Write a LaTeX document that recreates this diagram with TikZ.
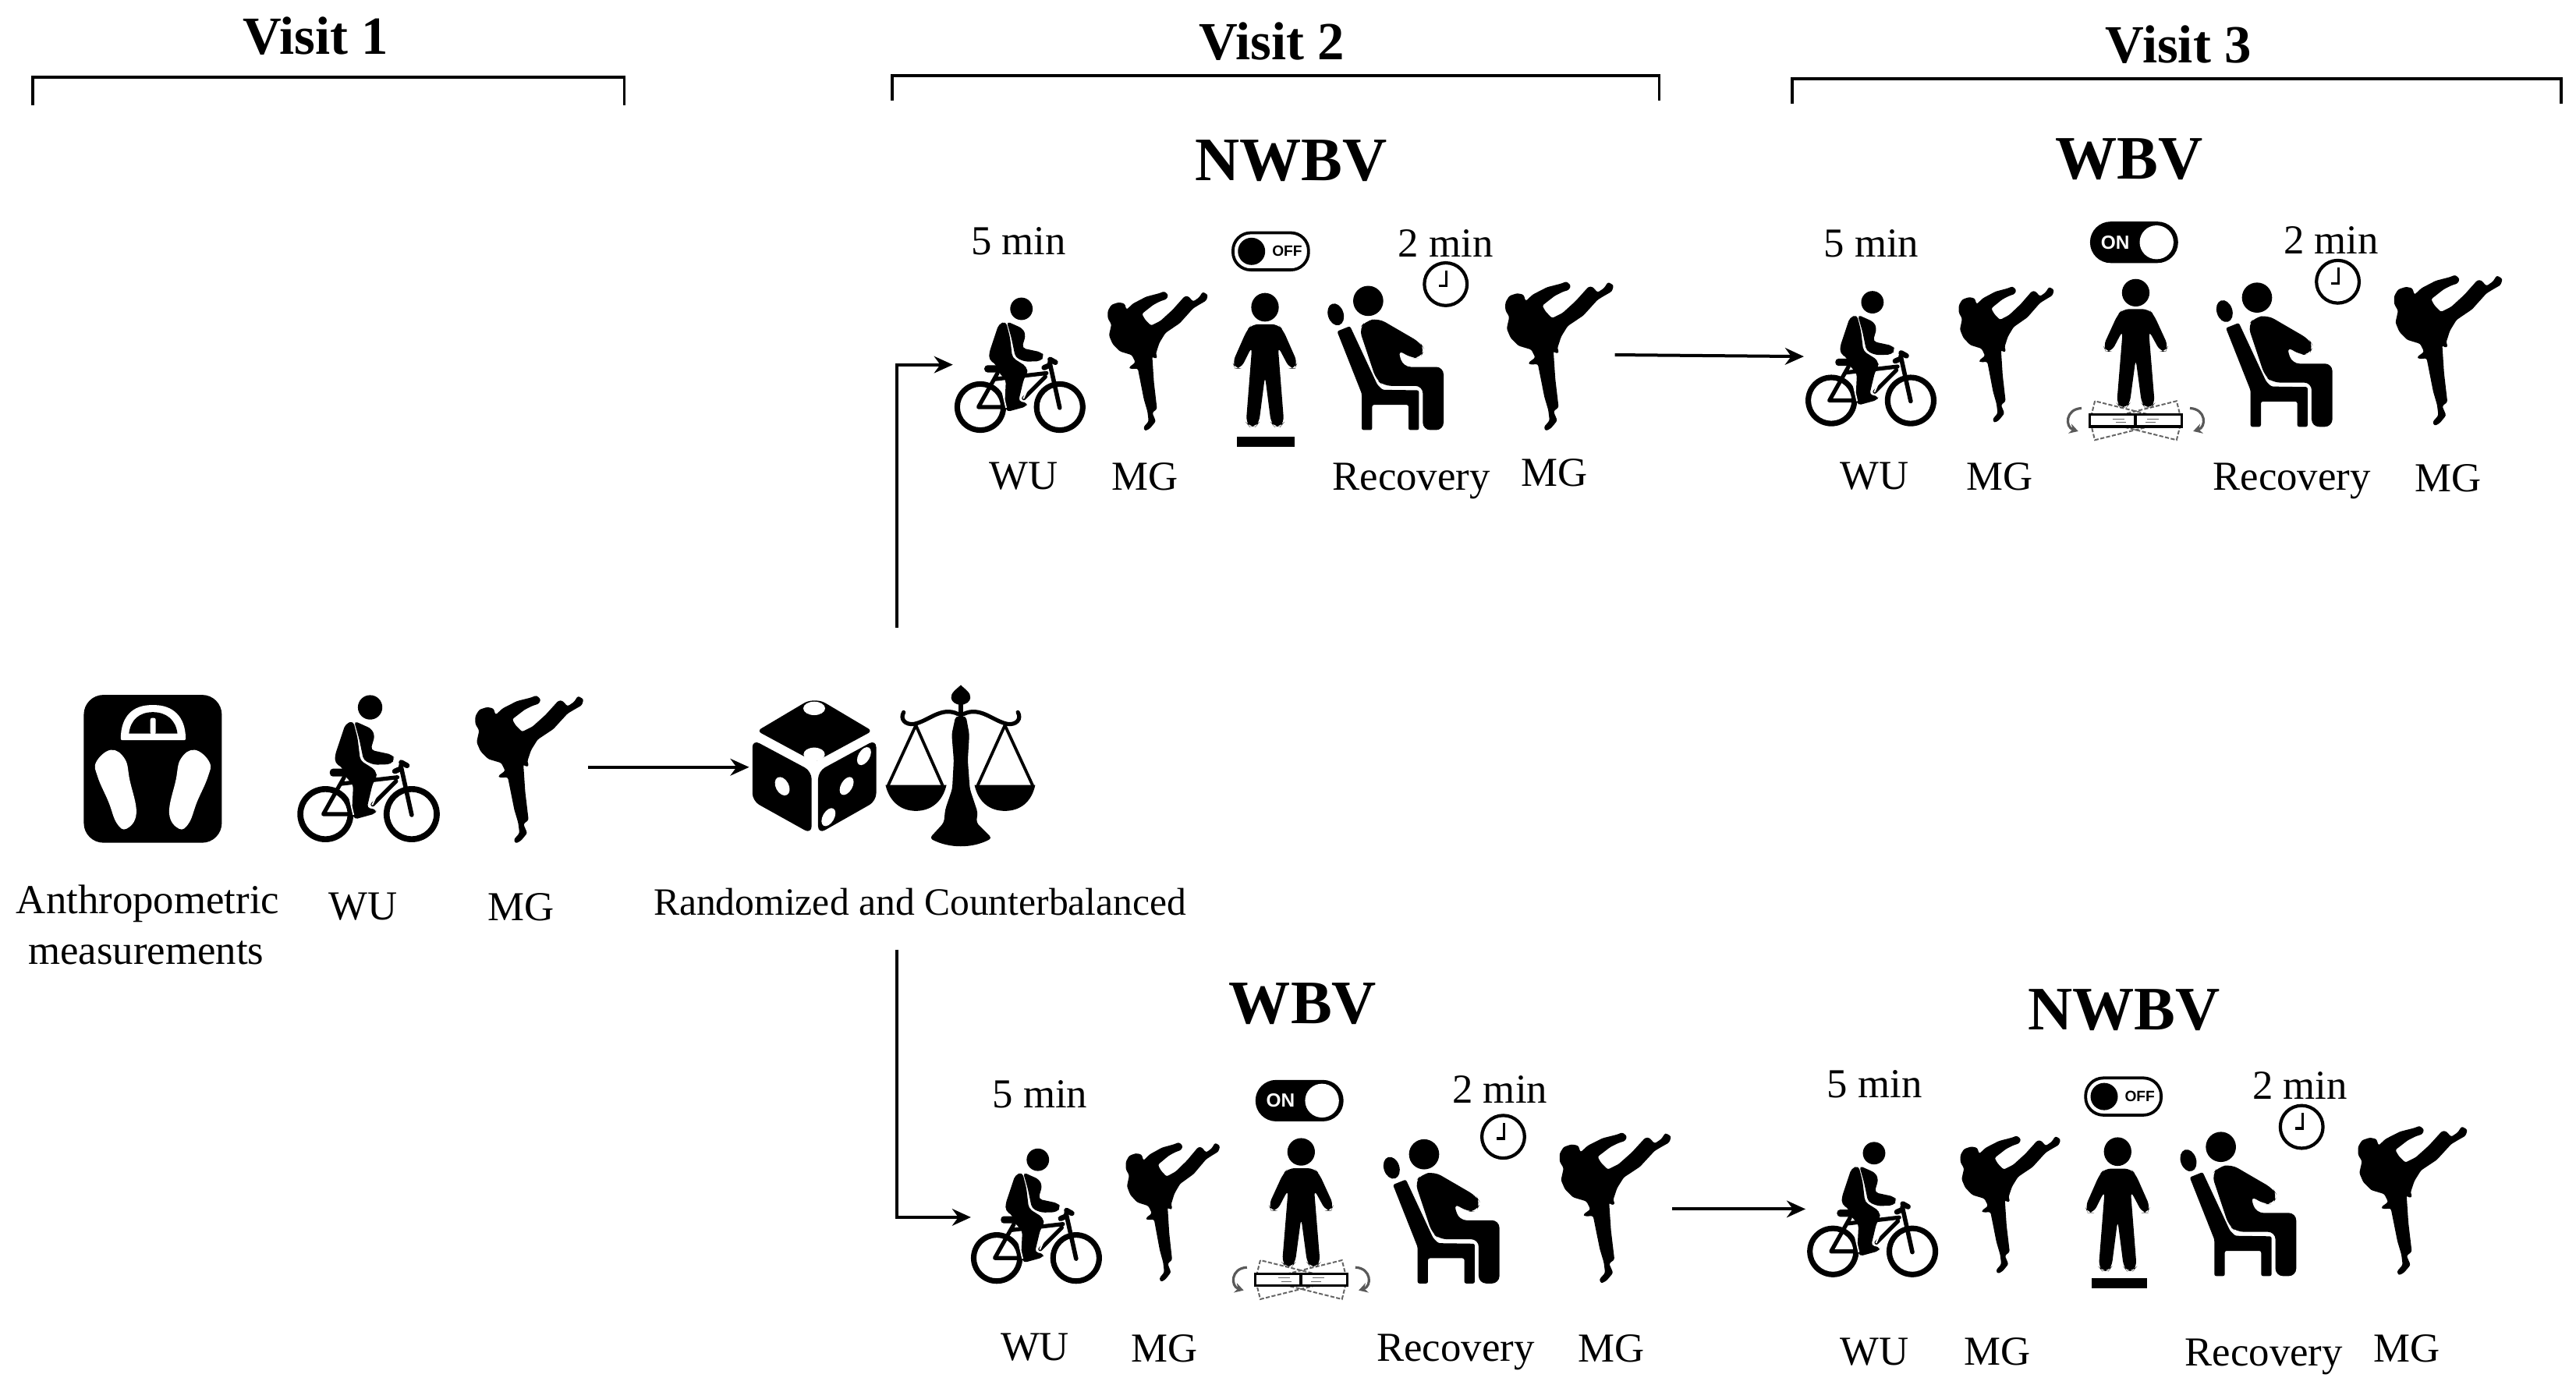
\documentclass[tikz,border=0pt]{standalone}
\usepackage{fontspec}
\setmainfont{Liberation Serif}
\newfontfamily\iconfont{Liberation Sans}
\usetikzlibrary{arrows.meta}
\tikzset{
  lab/.style={font=\fontsize{13.2}{15}\selectfont,inner sep=0pt},
  randlab/.style={font=\fontsize{12.4}{15}\selectfont,inner sep=0pt},
  vis/.style={font=\fontsize{17.2}{20}\selectfont\bfseries,inner sep=0pt},
  cond/.style={font=\fontsize{19.8}{24}\selectfont\bfseries,inner sep=0pt},
  conn/.style={line width=1pt,-{Stealth[length=6pt,width=5.4pt]}},
  brk/.style={line width=0.95pt},
  bike/.pic={
    \begin{scope}[x=0.0833pt,y=-0.0833pt,shift={(-30,-28)}]
    \fill[even odd rule] (138,487) circle (108) (138,487) circle (85);
    \fill[even odd rule] (470,487) circle (108) (470,487) circle (85);
    \draw[line width=1.3pt,line join=round,line cap=round] (210,345) -- (130,487) -- (250,487) (200,370) -- (415,345) (410,360) -- (320,450);
    \draw[line width=1.4pt,line cap=round] (428,300) -- (470,490);
    \draw[line width=1.7pt,line cap=round] (405,322) -- (428,312) (430,288) -- (452,300);
    \fill[rounded corners=1pt] (155,312) rectangle (215,342);
    \fill[rounded corners=1pt] (205,330) -- (335,325) -- (335,345) -- (320,370) -- (298,462) -- (335,470) -- (330,485) -- (250,507) -- (240,480) -- (245,375) -- cycle;
    \draw[white,line width=0.45pt] (222,385) -- (246,490) (342,398) -- (318,452);
    \fill (310,76) circle (47);
    \fill[rounded corners=1.2pt] (215,140) -- (245,128) -- (262,195) -- (272,280) -- (332,318) -- (335,345) -- (205,345) -- (208,312) -- (175,290) -- (175,260) -- cycle;
    \fill[rounded corners=1.2pt] (248,128) -- (315,158) -- (328,185) -- (312,240) -- (395,258) -- (405,275) -- (390,295) -- (325,297) -- (285,280) -- (268,198) -- cycle;
    \end{scope}
  },
  kicker/.pic={
    \begin{scope}[x=0.0833pt,y=-0.0833pt,shift={(-28,-28)}]
    \fill[rounded corners=0.6pt] (30,110) -- (45,85) -- (75,75) -- (100,80) -- (108,105) -- (135,80) -- (190,52) -- (245,38) -- (265,30) -- (282,45) -- (275,62) -- (250,70) -- (220,85) -- (172,122) -- (185,145) -- (210,170) -- (250,150) -- (300,105) -- (350,50) -- (365,50) -- (385,72) -- (410,55) -- (425,32) -- (447,45) -- (440,68) -- (410,85) -- (385,100) -- (330,160) -- (270,200) -- (245,240) -- (230,285) -- (237,300) -- (225,305) -- (215,295) -- (222,400) -- (235,510) -- (215,525) -- (230,560) -- (205,590) -- (185,600) -- (178,585) -- (200,560) -- (195,520) -- (180,470) -- (155,345) -- (125,347) -- (118,340) -- (145,320) -- (130,290) -- (80,275) -- (50,245) -- (35,210) -- (45,165) -- (30,140) -- cycle;
    \end{scope}
  },
  person/.pic={
    \begin{scope}[x=0.0832pt,y=-0.0832pt,shift={(-355,-290)}]
    \fill (355,345) circle (53);
    \fill[rounded corners=2pt] (305,408) -- (405,408) -- (425,430) -- (480,550) -- (470,572) -- (450,572) -- (405,490) -- (428,772) -- (415,787) -- (390,787) -- (378,772) -- (355,600) -- (332,772) -- (320,787) -- (295,787) -- (282,772) -- (305,490) -- (262,572) -- (240,572) -- (230,550) -- (285,430) -- cycle;
    \end{scope}
  },
  sitter/.pic={
    \begin{scope}[x=0.0833pt,y=-0.0833pt,shift={(-28,-80)}]
    \fill (185,138) circle (58);
    \fill[rotate around={18:(60,190)}] (60,190) ellipse [x radius=30,y radius=43];
    \fill[rounded corners=0.6pt] (65,255) -- (115,235) -- (220,460) -- (240,480) -- (380,482) -- (380,635) -- (340,635) -- (340,538) -- (200,538) -- (200,635) -- (160,635) -- (160,495) -- cycle;
    \fill[rounded corners=2.4pt] (150,245) -- (175,215) -- (225,205) -- (385,298) -- (402,325) -- (385,358) -- (350,358) -- (298,325) -- (320,392) -- (475,392) -- (475,635) -- (395,635) -- (395,465) -- (245,465) -- (215,440) -- cycle;
    \end{scope}
  },
  clockface/.pic={
    \draw[line width=1.05pt] (0,0) circle (13);
    \draw[line width=0.85pt] (0.5,-8.5) -- (0.5,1) -- (-4,1);
  },
  toggleon/.pic={
    \fill[rounded corners=6.6pt] (-26.8,-12.6) rectangle (26.8,12.6);
    \fill[white] (13.7,0) circle (10.3);
    \node[white,inner sep=0pt,font=\iconfont\bfseries\fontsize{6.1}{7}\selectfont] (-txt) at (-11.5,0) {ON};
  },
  toggleoff/.pic={
    \draw[line width=0.95pt,rounded corners=5.7pt,fill=white] (-23,-11.3) rectangle (23,11.3);
    \fill (-11.7,0) circle (8.3);
    \node[black,inner sep=0pt,font=\iconfont\bfseries\fontsize{4.8}{5}\selectfont] (-txt) at (10,0) {OFF};
  },
  platform/.pic={
    \draw[black!60,line width=0.5pt,dash pattern=on 1.3pt off 0.6pt,rotate=14] (-27,-5.5) rectangle (27,5.5);
    \draw[black!60,line width=0.5pt,dash pattern=on 1.3pt off 0.6pt,rotate=-14] (-27,-5.5) rectangle (27,5.5);
    \draw[line width=0.85pt,fill=white] (-28,-3.6) rectangle (28,3.6);
    \draw[line width=1pt] (0,-3.6) -- (0,3.6);
    \draw[black!60,line width=0.3pt] (-14,-1) -- (-7,-1) (-12,1) -- (-6,1) (6,1) -- (12,1) (7,-1) -- (14,-1);
    \draw[black!65,line width=0.8pt,-{Stealth[length=2.8pt,width=3.2pt]}] (-33,-7.5) .. controls (-43,-7) and (-43,4) .. (-35,6.5);
    \draw[black!65,line width=0.8pt,-{Stealth[length=2.8pt,width=3.2pt]}] (33,-7.5) .. controls (43,-7) and (43,4) .. (35,6.5);
  },
  weighscale/.pic={
    \fill[rounded corners=6.3pt] (0,0) rectangle (84,90);
    \fill[white,rounded corners=0.5pt] (22.5,27.6) .. controls (22.5,13) and (30,6.2) .. (42,6.2) .. controls (54,6.2) and (62,13) .. (62,27.6) -- cycle;
    \fill (27.5,23.5) .. controls (28.5,15) and (34,10.5) .. (42,10.5) .. controls (50,10.5) and (56,15) .. (57,23.5) -- cycle;
    \fill[white,rounded corners=0.6pt] (40.5,14) rectangle (43.8,24);
    \fill[white] plot[smooth cycle,tension=0.7] coordinates {(16.5,33.5) (25,39) (28,52) (32,72) (26,81.5) (20,78) (15,65) (8.5,50) (7.5,41)};
    \fill[white] plot[smooth cycle,tension=0.7] coordinates {(67.5,33.5) (59,39) (56,52) (52,72) (58,81.5) (64,78) (69,65) (75.5,50) (76.5,41)};
  },
  dice/.pic={
    \begin{scope}[x=0.0832pt,y=-0.0832pt,shift={(-190,-175)}]
    \fill[rounded corners=1.5pt] (208,295) -- (405,178) -- (455,178) -- (652,295) -- (430,415) -- cycle;
    \fill[white] (428,208) ellipse [x radius=42,y radius=26];
    \fill[white] (428,385) ellipse [x radius=41,y radius=26];
    \fill[rounded corners=2.5pt] (190,328) -- (418,450) -- (418,692) -- (190,565) -- cycle;
    \fill[rounded corners=2.5pt] (443,450) -- (667,328) -- (667,565) -- (443,692) -- cycle;
    \fill[white,rotate around={28:(305,508)}] (305,508) ellipse [x radius=25,y radius=38];
    \fill[white,rotate around={-30:(620,392)}] (620,392) ellipse [x radius=22,y radius=38];
    \fill[white,rotate around={-30:(553,507)}] (553,507) ellipse [x radius=22,y radius=38];
    \fill[white,rotate around={-30:(483,627)}] (483,627) ellipse [x radius=22,y radius=38];
    \end{scope}
  },
  balance/.pic={
    \begin{scope}[x=0.0832pt,y=-0.0832pt,shift={(-705,-110)}]
    \fill (995,110) .. controls (1010,125) and (1035,140) .. (1032,160) .. controls (1030,175) and (1015,185) .. (995,187) .. controls (975,185) and (960,175) .. (958,160) .. controls (955,140) and (980,125) .. (995,110) -- cycle;
    \fill (985,180) rectangle (1005,250);
    \draw[line width=1.3pt,line cap=round] (985,222) .. controls (920,190) and (870,250) .. (815,260) .. controls (780,265) and (760,240) .. (775,215);
    \draw[line width=1.3pt,line cap=round] (1005,222) .. controls (1070,190) and (1120,250) .. (1175,260) .. controls (1210,265) and (1230,240) .. (1215,215);
    \fill[rounded corners=1pt] (975,230) -- (1015,230) -- (1028,300) -- (1022,400) -- (1030,510) -- (1060,600) -- (1055,640) -- (1115,700) .. controls (1040,740) and (950,740) .. (875,700) -- (930,640) -- (935,590) -- (962,510) -- (968,400) -- (960,300) -- cycle;
    \draw[line width=0.95pt,line join=round] (715,497) -- (822,265) -- (925,497) (1060,497) -- (1165,265) -- (1272,497);
    \fill (705,495) -- (940,495) .. controls (925,560) and (880,595) .. (822,595) .. controls (765,595) and (720,560) .. (705,495) -- cycle;
    \fill (1048,495) -- (1282,495) .. controls (1268,560) and (1225,595) .. (1165,595) .. controls (1105,595) and (1062,560) .. (1048,495) -- cycle;
    \end{scope}
  },
}
\begin{document}
\begin{tikzpicture}[x=0.52663pt,y=-0.52663pt]
\useasboundingbox (0,0) rectangle (1568,847);

% brackets
\coordinate (b1a) at (20,64); \coordinate (b1b) at (20,47); \coordinate (b1c) at (380,47); \coordinate (b1d) at (380,64);
\coordinate (b2a) at (543,61); \coordinate (b2b) at (543,46); \coordinate (b2c) at (1010,46); \coordinate (b2d) at (1010,61);
\coordinate (b3a) at (1091,63); \coordinate (b3b) at (1091,48); \coordinate (b3c) at (1559,48); \coordinate (b3d) at (1559,63);
\draw[brk] (b1a) -- (b1b) -- (b1c) -- (b1d);
\draw[brk] (b2a) -- (b2b) -- (b2c) -- (b2d);
\draw[brk] (b3a) -- (b3b) -- (b3c) -- (b3d);

\node[vis] (v1) at (192,22) {Visit 1};
\node[vis] (v2) at (774,25) {Visit 2};
\node[vis] (v3) at (1326,27) {Visit 3};
\node[cond] (c1) at (786,98) {NWBV};
\node[cond] (c2) at (1296,97) {WBV};
\node[cond] (c3) at (793,611) {WBV};
\node[cond] (c4) at (1293,615) {NWBV};

% visit 1
\pic (ws) at (51,423) {weighscale};
\pic (b0) at (181,423) {bike};
\pic (k0) at (289,423) {kicker};
\pic (die) at (458,426) {dice};
\pic (bal) at (539,417) {balance};
\node[lab] (t01) at (90,550) {Anthropometric};
\node[lab] (t02) at (89,580) {measurements};
\node[lab] (t03) at (221,552) {WU};
\node[lab] (t04) at (317,552) {MG};
\node[randlab] (t05) at (560,549) {Randomized and Counterbalanced};

% top left
\pic[scale=0.92] (b1) at (581,181) {bike};
\pic[xscale=0.925,yscale=0.944] (k1) at (674,177) {kicker};
\pic (tg1) at (773.5,153) {toggleoff};
\pic[xscale=1,yscale=1.04] (p1) at (770,178) {person};
\fill (753,266) rectangle (788,272);
\pic (s1) at (808,174) {sitter};
\pic (cl1) at (880,173) {clockface};
\pic[yscale=1.01] (k2) at (916,171) {kicker};
\node[lab] (t11) at (620,147) {5 min};
\node[lab] (t12) at (880,148) {2 min};
\node[lab] (t13) at (623,290) {WU};
\node[lab] (t14) at (697,290) {MG};
\node[lab] (t15) at (859,293) {Recovery};
\node[lab] (t16) at (946,288) {MG};

% top right
\pic[scale=0.92] (b2) at (1099,177) {bike};
\pic[xscale=0.88,yscale=0.922] (k3) at (1192,174) {kicker};
\pic (tg2) at (1299,147.5) {toggleon};
\pic (pl2) at (1300,256) {platform};
\pic (p2) at (1300,169.5) {person};
\pic (s2) at (1349,172) {sitter};
\pic (cl2) at (1423,171.5) {clockface};
\pic[yscale=1.02] (k4) at (1457,167) {kicker};
\node[lab] (t21) at (1139,148) {5 min};
\node[lab] (t22) at (1419,146) {2 min};
\node[lab] (t23) at (1141,290) {WU};
\node[lab] (t24) at (1217,290) {MG};
\node[lab] (t25) at (1395,293) {Recovery};
\node[lab] (t26) at (1490,291) {MG};

% bottom left
\pic[scale=0.92] (b3) at (591,699) {bike};
\pic[xscale=0.87,yscale=0.944] (k5) at (685,695) {kicker};
\pic (tg3) at (791,670) {toggleon};
\pic (pl3) at (792,779) {platform};
\pic (p3) at (792,692.5) {person};
\pic (s3) at (842,693.5) {sitter};
\pic (cl3) at (915,692) {clockface};
\pic[xscale=1.03,yscale=1.02] (k6) at (949,689) {kicker};
\node[lab] (t31) at (633,666) {5 min};
\node[lab] (t32) at (913,663) {2 min};
\node[lab] (t33) at (630,820) {WU};
\node[lab] (t34) at (709,821) {MG};
\node[lab] (t35) at (886,823) {Recovery};
\node[lab] (t36) at (981,821) {MG};

% bottom right
\pic[scale=0.92] (b4) at (1100,695) {bike};
\pic[xscale=0.925,yscale=0.933] (k7) at (1193,691) {kicker};
\pic (tg4) at (1292.5,667.5) {toggleoff};
\pic[xscale=1,yscale=1.04] (p4) at (1289,692) {person};
\fill (1273,778) rectangle (1307,784);
\pic (s4) at (1327,689) {sitter};
\pic (cl4) at (1401,686) {clockface};
\pic[xscale=1.01,yscale=1.01] (k8) at (1435,685) {kicker};
\node[lab] (t41) at (1141,660) {5 min};
\node[lab] (t42) at (1400,661) {2 min};
\node[lab] (t43) at (1141,823) {WU};
\node[lab] (t44) at (1216,823) {MG};
\node[lab] (t45) at (1378,826) {Recovery};
\node[lab] (t46) at (1465,821) {MG};

% connectors
\coordinate (a1) at (358,467); \coordinate (a2) at (456,467);
\draw[conn] (a1) -- (a2);
\coordinate (u1) at (546,382); \coordinate (u2) at (546,222); \coordinate (u3) at (580,222);
\draw[conn] (u1) -- (u2) -- (u3);
\coordinate (d1) at (546,578); \coordinate (d2) at (546,741); \coordinate (d3) at (591,741);
\draw[conn] (d1) -- (d2) -- (d3);
\coordinate (e1) at (983,216); \coordinate (e2) at (1098,217);
\draw[conn] (e1) -- (e2);
\coordinate (f1) at (1018,736); \coordinate (f2) at (1099,736);
\draw[conn] (f1) -- (f2);
\end{tikzpicture}
\end{document}
